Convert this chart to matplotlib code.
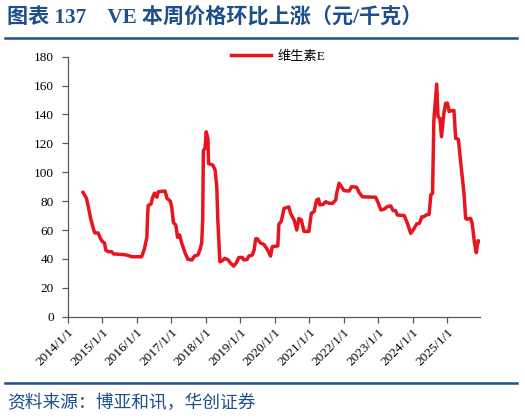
import matplotlib
matplotlib.use("Agg")
import matplotlib.pyplot as plt
import pandas as pd
from matplotlib.lines import Line2D

dates = [
    "2014-06-10", "2014-07-16", "2014-08-11", "2014-08-29", "2014-09-27", "2014-10-12",
    "2014-11-17", "2014-12-12", "2015-01-02", "2015-01-23", "2015-02-06", "2015-03-03",
    "2015-04-09", "2015-04-27", "2015-08-11", "2015-09-13", "2015-10-19", "2015-11-06",
    "2016-02-21", "2016-03-21", "2016-04-16", "2016-04-23", "2016-04-30", "2016-05-30",
    "2016-06-13", "2016-07-05", "2016-07-31", "2016-08-14", "2016-10-27", "2016-11-14",
    "2016-12-20", "2017-01-04", "2017-01-23", "2017-02-17", "2017-03-07", "2017-03-29",
    "2017-04-20", "2017-05-27", "2017-06-25", "2017-08-08", "2017-09-02", "2017-10-09",
    "2017-11-03", "2017-11-18", "2017-11-29", "2017-12-06", "2017-12-24", "2018-01-05",
    "2018-01-16", "2018-01-23", "2018-01-30", "2018-03-15", "2018-04-09", "2018-04-27",
    "2018-05-08", "2018-05-30", "2018-06-25", "2018-07-20", "2018-08-26", "2018-09-21",
    "2018-10-23", "2018-11-18", "2018-12-17", "2019-01-23", "2019-02-06", "2019-03-15",
    "2019-04-02", "2019-05-08", "2019-05-27", "2019-06-14", "2019-06-29", "2019-08-04",
    "2019-09-09", "2019-09-24", "2019-10-19", "2019-11-18", "2019-12-06", "2020-02-03",
    "2020-02-14", "2020-03-11", "2020-04-09", "2020-05-30", "2020-06-17", "2020-07-24",
    "2020-08-22", "2020-09-13", "2020-10-09", "2020-11-07", "2020-12-28", "2021-01-23",
    "2021-02-21", "2021-03-21", "2021-04-09", "2021-04-23", "2021-05-30", "2021-06-25",
    "2021-07-31", "2021-09-06", "2021-10-09", "2021-10-19", "2021-11-14", "2021-12-09",
    "2022-01-04", "2022-02-28", "2022-03-26", "2022-05-19", "2022-06-14", "2022-07-20",
    "2022-12-06", "2023-01-04", "2023-01-30", "2023-03-03", "2023-04-09", "2023-05-15",
    "2023-06-10", "2023-07-05", "2023-07-24", "2023-10-05", "2023-11-07", "2023-12-13",
    "2024-01-19", "2024-02-14", "2024-03-14", "2024-04-09", "2024-05-01", "2024-05-23",
    "2024-06-25", "2024-07-13", "2024-07-31", "2024-08-14", "2024-09-13", "2024-09-27",
    "2024-10-16", "2024-11-03", "2024-11-28", "2024-12-17", "2025-01-05", "2025-01-23",
    "2025-02-17", "2025-03-15", "2025-04-02", "2025-05-01", "2025-05-23", "2025-06-29",
    "2025-07-17", "2025-08-01", "2025-09-06", "2025-09-24", "2025-10-19", "2025-11-07",
    "2025-11-25", "2025-12-16",
]
values = [
    86, 82, 74, 68, 61, 58,
    58, 54, 52, 51, 46, 45,
    45, 43.5, 43, 42.7, 42, 41.5,
    41.5, 47, 55, 69, 77, 78,
    82, 85.5, 82.7, 86.5, 87, 82,
    80, 76, 65, 63.5, 55, 56.6,
    51, 44, 39.7, 39.3, 42, 42.7,
    47, 51, 67, 115, 116.6, 128,
    125, 123.5, 106, 105, 101.6, 90,
    67, 38, 38.8, 40.4, 39.3, 37,
    35, 37, 41, 41, 39.3, 39.7,
    42, 42.7, 46, 54, 54, 51,
    50, 48.5, 46, 42, 48.5, 49,
    64, 66, 75, 76, 71.6, 67,
    60, 68, 67, 59, 59, 71.6,
    72.7, 80.8, 81.5, 77.4, 77.8, 79.6,
    78.5, 78.5, 80.8, 85.5, 92.4, 90,
    87.3, 87, 90, 89.6, 85.9, 83,
    82.7, 78.5, 73.9, 74.4, 76.2, 76.7,
    73.4, 73.4, 70.4, 70, 64.7, 57.7,
    61.2, 64.2, 64.7, 69.2, 69.2, 70.4,
    70.9, 84.3, 85.5, 136, 161, 138.5,
    137.4, 124.6, 140.8, 147.8, 147.8, 142,
    142.7, 142.7, 123.5, 122.8, 108.5, 85.5,
    68.1, 67.4, 68.1, 64.7, 50.8, 44.3,
    52.6, 52,
]
series_name = "维生素E"
y_ticks = [0, 20, 40, 60, 80, 100, 120, 140, 160, 180]
x_tick_labels = [f"{y}/1/1" for y in range(2014, 2026)]
title = "图表 137　VE 本周价格环比上涨（元/千克）"
source = "资料来源：博亚和讯，华创证券"

BLUE = "#1F4E8C"
RED = "#E8141E"
SERIF = ["Liberation Serif", "Noto Sans CJK SC"]
CJK = ["Noto Sans CJK SC", "Liberation Serif"]

x = pd.to_datetime(dates)
x_ticks = pd.to_datetime([f"{y}-01-01" for y in range(2014, 2026)])

fig = plt.figure(figsize=(5.25, 4.18), dpi=100)
ax = fig.add_axes([68 / 525, 1 - 316.7 / 418, (480 - 68) / 525, (316.7 - 56.7) / 418])

ax.plot(x, values, color=RED, lw=2.5, solid_joinstyle="round", label=series_name)

ax.set_ylim(0, 180)
ax.set_yticks(y_ticks)
ax.set_yticklabels([str(v) for v in y_ticks], family=SERIF, fontsize=9.5)
ax.set_xlim(pd.Timestamp("2014-01-01"), x[-1])
ax.set_xticks(x_ticks)
ax.set_xticklabels(x_tick_labels, rotation=45, ha="right", rotation_mode="anchor",
                   family=SERIF, fontsize=9.5)

for s in ["top", "right"]:
    ax.spines[s].set_visible(False)
for s in ["left", "bottom"]:
    ax.spines[s].set_color("#595959")
    ax.spines[s].set_linewidth(0.9)
ax.tick_params(axis="both", direction="out", length=4, width=0.9, color="#595959",
               labelcolor="#000000", pad=3)
ax.tick_params(axis="y", pad=6)

ax.legend(handles=[Line2D([], [], color=RED, lw=2.5)], labels=[series_name],
          loc="center", bbox_to_anchor=(0.51, 1.0), frameon=False,
          handlelength=3.0, handletextpad=0.5, prop={"family": SERIF, "size": 9.5})

fig.text(7 / 525, 1 - 17 / 418, title, color=BLUE, fontsize=15.2, fontweight="bold",
         family=SERIF, va="center", ha="left")
fig.add_artist(Line2D([5 / 525, 517 / 525], [1 - 38.3 / 418] * 2, color=BLUE, lw=1.8))
fig.add_artist(Line2D([5 / 525, 517 / 525], [1 - 382.7 / 418] * 2, color=BLUE, lw=1.8))
fig.text(7 / 525, 1 - 403 / 418, source, color=BLUE, fontsize=12.8, family=CJK,
         va="center", ha="left")

fig.savefig("out.png", dpi=100)
